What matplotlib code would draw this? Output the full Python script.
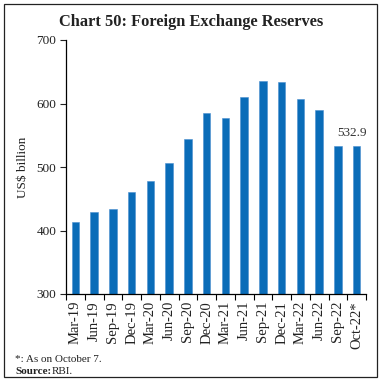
import matplotlib.pyplot as plt
from matplotlib.patches import Rectangle
import numpy as np

periods = ["Mar-19", "Jun-19", "Sep-19", "Dec-19", "Mar-20", "Jun-20", "Sep-20", "Dec-20",
           "Mar-21", "Jun-21", "Sep-21", "Dec-21", "Mar-22", "Jun-22", "Sep-22", "Oct-22*"]
reserves = [413.0, 429.5, 433.5, 460.0, 478.0, 505.6, 544.7, 585.8,
            577.0, 610.5, 635.5, 634.0, 607.5, 589.0, 533.0, 532.9]

plt.rcParams['font.family'] = ['Liberation Serif', 'DejaVu Serif']

fig = plt.figure(figsize=(3.82, 3.81), dpi=100)
ax = fig.add_axes([66 / 382, 1 - 294 / 381, 300 / 382, 254 / 381])

x = np.arange(len(periods))
ax.bar(x, reserves, width=0.4, bottom=0, color='#0A6CB8', edgecolor='#4A8ED0', linewidth=0.4)

ax.set_ylim(300, 700)
ax.set_xlim(-0.5, len(periods) - 0.5)
ax.set_yticks([300, 400, 500, 600, 700])
ax.tick_params(axis='y', labelsize=9.5, colors='#222222', length=4, width=0.8, pad=3)

# ticks sit between bars, labels under bars
ax.set_xticks(np.arange(-0.5, len(periods), 1))
ax.set_xticklabels([])
ax.set_xticks(x, minor=True)
ax.set_xticklabels(periods, minor=True, rotation=90, fontsize=10.5, color='#222222')
ax.tick_params(axis='x', which='major', length=4, width=0.8)
ax.tick_params(axis='x', which='minor', length=0, pad=5)

for s in ['top', 'right']:
    ax.spines[s].set_visible(False)
for s in ['left', 'bottom']:
    ax.spines[s].set_linewidth(0.9)

ax.set_ylabel("US$ billion", fontsize=9.5, color='#222222', labelpad=5)

ax.annotate(f"{reserves[-1]:.1f}", (x[-1], reserves[-1]), xytext=(-3, 5),
            textcoords='offset points', ha='center', va='bottom', fontsize=9.5, color='#333333')

fig.text(0.5, 1 - 22 / 381, "Chart 50: Foreign Exchange Reserves", ha='center', va='center',
         fontsize=11.8, fontweight='bold', color='#222222')
fig.text(15 / 382, 1 - 360 / 381, "*: As on October 7.", fontsize=8, va='center', color='#222222')
fig.text(15 / 382, 1 - 372 / 381, "Source:", fontsize=8, va='center', fontweight='bold', color='#222222')
fig.text(52 / 382, 1 - 372 / 381, "RBI.", fontsize=8, va='center', color='#222222')

fig.patches.append(Rectangle((4 / 382, 4 / 381), 373 / 382, 373 / 381, transform=fig.transFigure,
                             fill=False, edgecolor='#222222', linewidth=0.9))

fig.savefig("out.png", dpi=100)
